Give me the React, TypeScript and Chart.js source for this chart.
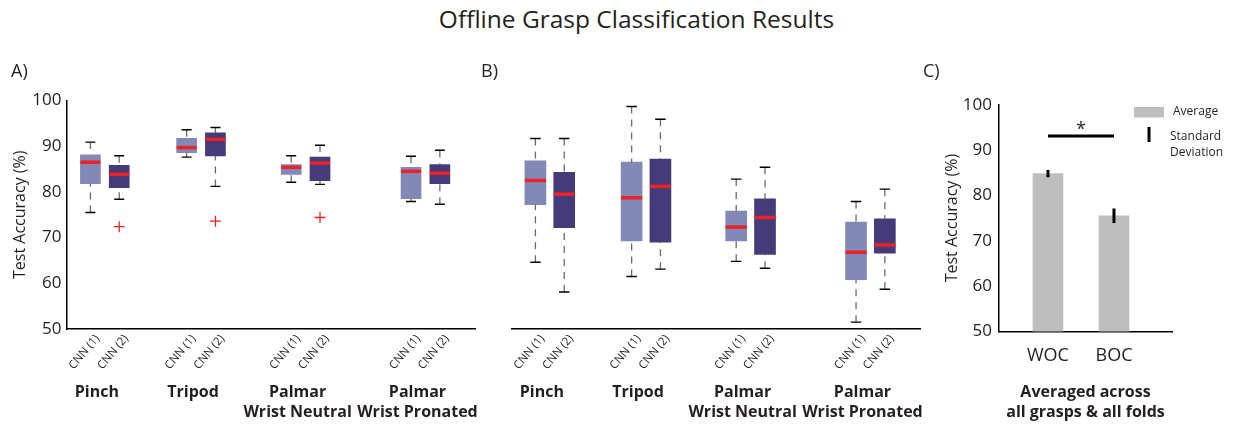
import React, { useEffect, useRef } from 'react';
import { Chart, registerables } from 'chart.js';

Chart.register(...registerables);

const FONT = "'Open Sans', 'Noto Sans', sans-serif";
const TEXT = '#231f20';
const RED = '#ec2227';
const LIGHT = '#8289b6';
const DARK = '#443b78';
const BAR_GRAY = '#bebebe';

Chart.defaults.font.family = FONT;
Chart.defaults.color = TEXT;

// ---- shared categories ----
const grasps = ['Pinch', 'Tripod', 'Palmar\nWrist Neutral', 'Palmar\nWrist Pronated'];
const models = ['CNN (1)', 'CNN (2)'];
const graspPositions = [1.33, 4.67, 8.3, 12.46];
const modelOffsets = [-0.5, 0.5];
const xRange = [0, 14.18];
const yRange = [50, 100];
const yStep = 10;
const yTitle = 'Test Accuracy (%)';
const figureTitle = 'Offline Grasp Classification Results';

// ---- Panel A: box plot statistics (per grasp) ----
const aCnn1Upper = [90.9, 93.6, 87.9, 87.8];
const aCnn1Q3 = [88.1, 91.7, 86.0, 85.4];
const aCnn1Median = [86.5, 89.7, 85.4, 84.5];
const aCnn1Q1 = [81.8, 88.6, 83.8, 78.5];
const aCnn1Lower = [75.5, 87.6, 82.1, 77.9];
const aCnn2Upper = [87.9, 94.1, 90.2, 89.1];
const aCnn2Q3 = [85.8, 92.9, 87.6, 86.0];
const aCnn2Median = [83.85, 91.5, 86.3, 84.1];
const aCnn2Q1 = [80.9, 87.9, 82.45, 81.8];
const aCnn2Lower = [78.4, 81.2, 81.65, 77.3];
const aCnn2Outliers = [72.4, 73.6, 74.4, null];

// ---- Panel B: box plot statistics (per grasp) ----
const bCnn1Upper = [91.7, 98.7, 82.8, 77.9];
const bCnn1Q3 = [86.8, 86.5, 75.8, 73.4];
const bCnn1Median = [82.5, 78.7, 72.3, 66.8];
const bCnn1Q1 = [77.2, 69.3, 69.3, 60.8];
const bCnn1Lower = [64.6, 61.5, 64.8, 51.5];
const bCnn2Upper = [91.7, 95.9, 85.4, 80.6];
const bCnn2Q3 = [84.3, 87.2, 78.5, 74.1];
const bCnn2Median = [79.5, 81.2, 74.4, 68.4];
const bCnn2Q1 = [72.2, 69.0, 66.3, 66.6];
const bCnn2Lower = [58.1, 63.1, 63.3, 58.7];

// ---- Panel C: averages ----
const cCategories = ['WOC', 'BOC'];
const cPositions = [1, 2];
const cMeans = [84.8, 75.5];
const cStd = [0.8, 1.6];
const cSignificance = 93.1;
const cLegendLabels = ['Average', 'Standard\nDeviation'];
const cGroupLabel = 'Averaged across\nall grasps & all folds';

type Series = {
  name: string; color: string; upper: number[]; q3: number[]; median: number[];
  q1: number[]; lower: number[]; outliers?: (number | null)[];
};

const panelA: Series[] = [
  { name: models[0], color: LIGHT, upper: aCnn1Upper, q3: aCnn1Q3, median: aCnn1Median, q1: aCnn1Q1, lower: aCnn1Lower },
  { name: models[1], color: DARK, upper: aCnn2Upper, q3: aCnn2Q3, median: aCnn2Median, q1: aCnn2Q1, lower: aCnn2Lower, outliers: aCnn2Outliers },
];
const panelB: Series[] = [
  { name: models[0], color: LIGHT, upper: bCnn1Upper, q3: bCnn1Q3, median: bCnn1Median, q1: bCnn1Q1, lower: bCnn1Lower },
  { name: models[1], color: DARK, upper: bCnn2Upper, q3: bCnn2Q3, median: bCnn2Median, q1: bCnn2Q1, lower: bCnn2Lower },
];

type BoxLayout = {
  letter: string; showY: boolean; boxWidth: number;
  padding: { top: number; left: number; right: number; bottom: number };
  yWidth: number; xHeight: number;
};

function createBoxChart(canvas: HTMLCanvasElement, series: Series[], layout: BoxLayout) {
  const tickValues = graspPositions.flatMap((g) => modelOffsets.map((o) => g + o));
  const datasets: any[] = series.map((s, si) => ({
    type: 'bar',
    label: s.name,
    data: graspPositions.map((g, i) => ({ x: g + modelOffsets[si], y: [s.q1[i], s.q3[i]] })),
    backgroundColor: s.color,
    borderWidth: 0,
    barThickness: layout.boxWidth,
    grouped: false,
  }));
  const outlierPoints: { x: number; y: number }[] = [];
  series.forEach((s, si) =>
    (s.outliers || []).forEach((v, i) => {
      if (v != null) outlierPoints.push({ x: graspPositions[i] + modelOffsets[si], y: v });
    })
  );
  if (outlierPoints.length) {
    datasets.push({
      type: 'scatter', label: 'Outliers', data: outlierPoints, pointStyle: 'cross',
      radius: 5.5, borderColor: RED, backgroundColor: RED, borderWidth: 1.3,
    });
  }

  const plugin = {
    id: 'boxExtras',
    afterDatasetsDraw(chart: any) {
      const { ctx, scales } = chart;
      const x = scales.x, y = scales.y;
      ctx.save();
      series.forEach((s, si) => {
        graspPositions.forEach((g, i) => {
          const cx = x.getPixelForValue(g + modelOffsets[si]);
          const cap = layout.boxWidth / 4;
          // dashed whiskers, drawn from the cap towards the box
          ctx.setLineDash([7, 6]);
          ctx.lineWidth = 1.3;
          ctx.strokeStyle = '#6a6a6a';
          ctx.beginPath();
          ctx.moveTo(cx, y.getPixelForValue(s.upper[i]));
          ctx.lineTo(cx, y.getPixelForValue(s.q3[i]));
          ctx.moveTo(cx, y.getPixelForValue(s.lower[i]));
          ctx.lineTo(cx, y.getPixelForValue(s.q1[i]));
          ctx.stroke();
          ctx.setLineDash([]);
          // caps
          ctx.strokeStyle = '#000';
          ctx.lineWidth = 1.4;
          ctx.beginPath();
          [s.upper[i], s.lower[i]].forEach((v) => {
            const py = y.getPixelForValue(v);
            ctx.moveTo(cx - cap, py);
            ctx.lineTo(cx + cap, py);
          });
          ctx.stroke();
          // median
          ctx.strokeStyle = RED;
          ctx.lineWidth = 3.5;
          ctx.beginPath();
          const my = y.getPixelForValue(s.median[i]);
          ctx.moveTo(cx - layout.boxWidth / 2, my);
          ctx.lineTo(cx + layout.boxWidth / 2, my);
          ctx.stroke();
        });
      });
      ctx.restore();
    },
    afterDraw(chart: any) {
      const { ctx, scales } = chart;
      const x = scales.x;
      ctx.save();
      ctx.fillStyle = TEXT;
      ctx.textAlign = 'center';
      ctx.textBaseline = 'middle';
      ctx.font = `bold 16px ${FONT}`;
      grasps.forEach((g, i) => {
        const cx = x.getPixelForValue(graspPositions[i]) - 8;
        g.split('\n').forEach((line, li) => ctx.fillText(line, cx, 392 + li * 20));
      });
      ctx.font = `18px ${FONT}`;
      ctx.textAlign = 'left';
      ctx.fillText(layout.letter, layout.letter === 'A)' ? 11 : 1, 72);
      ctx.restore();
    },
  };

  return new Chart(canvas, {
    type: 'bar',
    data: { datasets },
    options: {
      responsive: false,
      animation: false,
      events: [],
      layout: { padding: layout.padding },
      plugins: { legend: { display: false }, tooltip: { enabled: false } },
      scales: {
        x: {
          type: 'linear', min: xRange[0], max: xRange[1], offset: false,
          grid: { display: false, drawTicks: false, tickLength: 0 },
          border: { display: true, color: '#000', width: 1.5 },
          afterBuildTicks: (s: any) => { s.ticks = tickValues.map((v) => ({ value: v })); },
          afterFit: (s: any) => { s.height = layout.xHeight; },
          ticks: {
            autoSkip: false, minRotation: 50, maxRotation: 50, labelOffset: 7, padding: 3,
            color: TEXT, font: { size: 11.5 },
            callback: (_v: any, i: number) => models[i % models.length],
          },
        },
        y: {
          display: layout.showY, min: yRange[0], max: yRange[1],
          grid: { display: false, drawTicks: false, tickLength: 0 },
          border: { display: true, color: '#000', width: 1.5 },
          ticks: { stepSize: yStep, padding: 5, color: TEXT, font: { size: 17 } },
          title: { display: true, text: yTitle, color: TEXT, font: { size: 16 }, padding: { top: 10.9, bottom: 0 } },
          afterFit: (s: any) => { s.width = layout.yWidth; },
        },
      },
    } as any,
    plugins: [plugin],
  });
}

function createAverageChart(canvas: HTMLCanvasElement) {
  const plugin = {
    id: 'avgExtras',
    afterDatasetsDraw(chart: any) {
      const { ctx, scales } = chart;
      const x = scales.x, y = scales.y;
      ctx.save();
      ctx.strokeStyle = '#000';
      ctx.lineWidth = 3;
      ctx.beginPath();
      cPositions.forEach((p, i) => {
        const cx = x.getPixelForValue(p);
        ctx.moveTo(cx, y.getPixelForValue(cMeans[i] - cStd[i]));
        ctx.lineTo(cx, y.getPixelForValue(cMeans[i] + cStd[i]));
      });
      const sy = y.getPixelForValue(cSignificance);
      const x1 = x.getPixelForValue(cPositions[0]);
      const x2 = x.getPixelForValue(cPositions[1]);
      ctx.moveTo(x1, sy);
      ctx.lineTo(x2, sy);
      ctx.stroke();
      ctx.fillStyle = TEXT;
      ctx.font = `18px ${FONT}`;
      ctx.textAlign = 'center';
      ctx.textBaseline = 'alphabetic';
      ctx.fillText('*', (x1 + x2) / 2, sy - 1);
      ctx.restore();
    },
    afterDraw(chart: any) {
      const { ctx, chartArea } = chart;
      const r = chartArea.right;
      ctx.save();
      // legend
      ctx.fillStyle = BAR_GRAY;
      ctx.fillRect(r - 38, 107, 30, 10.5);
      ctx.fillStyle = '#000';
      ctx.fillRect(r - 24.5, 127, 3, 15);
      ctx.fillStyle = TEXT;
      ctx.font = `12px ${FONT}`;
      ctx.textAlign = 'left';
      ctx.textBaseline = 'middle';
      ctx.fillText(cLegendLabels[0], r + 1, 112);
      cLegendLabels[1].split('\n').forEach((line, li) => ctx.fillText(line, r - 2, 136.5 + li * 16.5));
      // group label
      ctx.font = `bold 16px ${FONT}`;
      ctx.textAlign = 'center';
      const cx = (chartArea.left + chartArea.right) / 2;
      cGroupLabel.split('\n').forEach((line, li) => ctx.fillText(line, cx, 392 + li * 20));
      // panel letter
      ctx.font = `18px ${FONT}`;
      ctx.textAlign = 'left';
      ctx.fillText('C)', 8, 72);
      ctx.restore();
    },
  };

  return new Chart(canvas, {
    type: 'bar',
    data: {
      datasets: [{
        label: 'Average',
        data: cPositions.map((p, i) => ({ x: p, y: cMeans[i] })),
        backgroundColor: BAR_GRAY, borderWidth: 0, barThickness: 30,
      }],
    },
    options: {
      responsive: false,
      animation: false,
      events: [],
      layout: { padding: { top: 104.7, left: 15, right: 62, bottom: 0 } },
      plugins: { legend: { display: false }, tooltip: { enabled: false } },
      scales: {
        x: {
          type: 'linear', min: 0.258, max: 2.879, offset: false,
          grid: { display: false, drawTicks: false, tickLength: 0 },
          border: { display: true, color: '#000', width: 1.5 },
          afterBuildTicks: (s: any) => { s.ticks = cPositions.map((v) => ({ value: v })); },
          afterFit: (s: any) => { s.height = 96.5; },
          ticks: {
            autoSkip: false, minRotation: 0, maxRotation: 0, padding: 14, color: TEXT, font: { size: 18 },
            callback: (_v: any, i: number) => cCategories[i],
          },
        },
        y: {
          min: yRange[0], max: yRange[1],
          grid: { display: false, drawTicks: false, tickLength: 0 },
          border: { display: true, color: '#000', width: 1.5 },
          ticks: { stepSize: yStep, padding: 7, color: TEXT, font: { size: 17 } },
          title: { display: true, text: yTitle, color: TEXT, font: { size: 16 }, padding: { top: 12.9, bottom: 0 } },
          afterFit: (s: any) => { s.width = 69; },
        },
      },
    } as any,
    plugins: [plugin],
  });
}

export default function App() {
  const refA = useRef<HTMLCanvasElement>(null);
  const refB = useRef<HTMLCanvasElement>(null);
  const refC = useRef<HTMLCanvasElement>(null);

  useEffect(() => {
    const a = createBoxChart(refA.current!, panelA, {
      letter: 'A)', showY: true, boxWidth: 20,
      padding: { top: 100.5, left: 0, right: 15, bottom: 0 }, yWidth: 66.5, xHeight: 99,
    });
    const b = createBoxChart(refB.current!, panelB, {
      letter: 'B)', showY: false, boxWidth: 21,
      padding: { top: 100.5, left: 31.5, right: 15, bottom: 0 }, yWidth: 0, xHeight: 99,
    });
    const c = createAverageChart(refC.current!);
    return () => { a.destroy(); b.destroy(); c.destroy(); };
  }, []);

  return (
    <div style={{ position: 'absolute', left: 0, top: 0, width: 1234, height: 428, background: '#fff', overflow: 'hidden' }}>
      <div style={{
        position: 'absolute', left: 636.5, top: 4, transform: 'translateX(-50%)', whiteSpace: 'nowrap',
        fontFamily: FONT, fontSize: 24.5, lineHeight: '30px', color: TEXT,
      }}>{figureTitle}</div>
      <canvas ref={refA} width={490} height={428} style={{ position: 'absolute', left: 0, top: 0 }} />
      <canvas ref={refB} width={455} height={428} style={{ position: 'absolute', left: 480, top: 0 }} />
      <canvas ref={refC} width={319} height={428} style={{ position: 'absolute', left: 915, top: 0 }} />
    </div>
  );
}
